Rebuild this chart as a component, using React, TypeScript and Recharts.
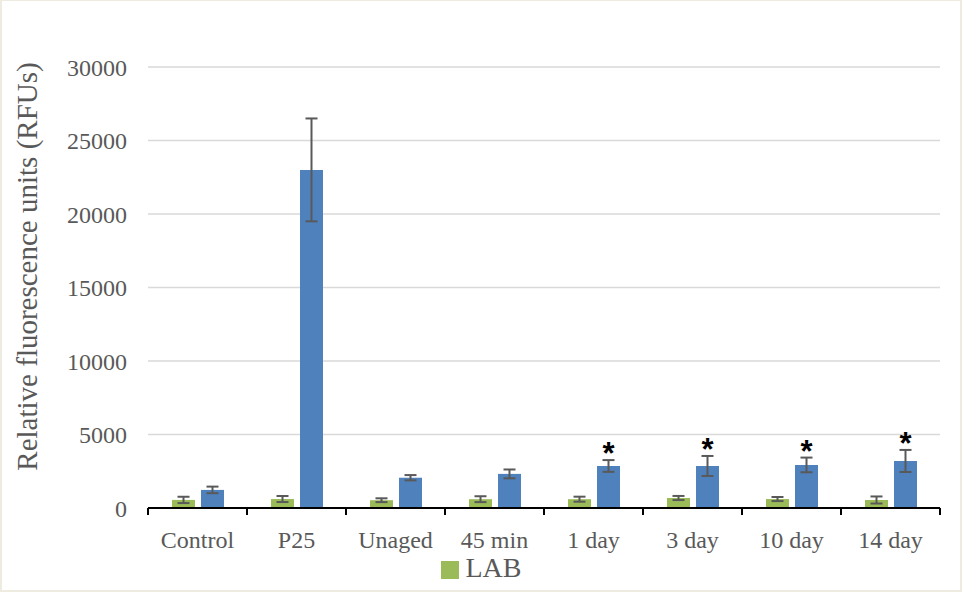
import { Bar, BarChart, CartesianGrid, ErrorBar, LabelList, Legend, XAxis, YAxis } from 'recharts'

const categories = ['Control', 'P25', 'Unaged', '45 min', '1 day', '3 day', '10 day', '14 day']
const labValues = [550, 610, 530, 600, 600, 680, 610, 545]
const labErrors = [215, 205, 130, 200, 170, 140, 140, 240]
const blueValues = [1230, 23000, 2060, 2320, 2860, 2860, 2930, 3200]
const blueErrors = [225, 3500, 180, 300, 400, 680, 500, 750]
const significant = [false, false, false, false, true, true, true, true]
const yTicks = [0, 5000, 10000, 15000, 20000, 25000, 30000]

const data = categories.map((name, i) => ({
  name,
  lab: labValues[i],
  labErr: labErrors[i],
  blue: blueValues[i],
  blueErr: blueErrors[i],
}))

const serif = '"Liberation Serif", "Times New Roman", serif'
const textGrey = '#595959'

// category labels centred, tick marks on the band edges (Excel style)
const CategoryTick = (props: any) => {
  const { x, y, payload, index, width } = props
  const step = (width || 792) / categories.length
  const axisY = y - 8
  const left = x - step / 2
  const right = x + step / 2
  return (
    <g>
      <line x1={left} x2={left} y1={axisY} y2={axisY + 7} stroke='#000' strokeWidth={2} />
      {index === categories.length - 1 && (
        <line x1={right} x2={right} y1={axisY} y2={axisY + 7} stroke='#000' strokeWidth={2} />
      )}
      <text x={x} y={axisY + 40} textAnchor='middle' fill={textGrey} fontSize={24} fontFamily={serif}>
        {payload.value}
      </text>
    </g>
  )
}

const Star = (props: any) => {
  const { x, y, width, height, value, index } = props
  if (!significant[index]) return null
  const pxPerUnit = height / value
  const top = y - blueErrors[index] * pxPerUnit
  return (
    <text x={x + width / 2} y={top + 4} textAnchor='middle' fontSize={31} fontWeight='bold' fontFamily='"Liberation Sans", Arial, sans-serif' fill='#000'>
      *
    </text>
  )
}

const YTitle = (props: any) => {
  const { viewBox } = props
  const cy = viewBox.y + viewBox.height / 2 - 21
  return (
    <text x={37} y={cy} transform={`rotate(-90, 37, ${cy})`} textAnchor='middle' fill={textGrey} fontSize={29} fontFamily={serif}>
      Relative fluorescence units (RFUs)
    </text>
  )
}

const LegendContent = () => (
  <div style={{ display: 'flex', justifyContent: 'center', alignItems: 'center', fontFamily: serif }}>
    <span style={{ width: 18, height: 18, background: '#9BBB59', display: 'inline-block', marginRight: 7, marginTop: 4 }} />
    <span style={{ fontSize: 28, color: textGrey, lineHeight: 1 }}>LAB</span>
  </div>
)

const App = () => {
  return (
    <div style={{ position: 'relative', width: 962, height: 592, background: '#fff' }}>
      <style>{'body{margin:0}'}</style>
      <BarChart
        width={962}
        height={592}
        data={data}
        margin={{ top: 67, right: 22, bottom: 0, left: 0 }}
        barSize={23}
        barGap={6}
      >
        <CartesianGrid horizontal vertical={false} stroke='#D9D9D9' strokeWidth={1.5} />
        <XAxis
          dataKey='name'
          height={84}
          tickSize={6}
          tickMargin={2}
          tickLine={false}
          axisLine={{ stroke: '#000', strokeWidth: 2 }}
          tick={<CategoryTick />}
          interval={0}
        />
        <YAxis
          width={148}
          domain={[0, 30000]}
          ticks={yTicks}
          axisLine={false}
          tickLine={false}
          tickMargin={15}
          tick={{ fill: textGrey, fontSize: 24, fontFamily: serif }}
          label={<YTitle />}
        />
        <Legend
          layout='horizontal'
          verticalAlign='middle'
          align='center'
          content={<LegendContent />}
          wrapperStyle={{ position: 'absolute', top: 554, left: 0, width: 962 }}
        />
        <Bar dataKey='lab' name='LAB' fill='#9BBB59' isAnimationActive={false}>
          <ErrorBar dataKey='labErr' width={6} stroke='#595959' strokeWidth={2} isAnimationActive={false} />
        </Bar>
        <Bar dataKey='blue' fill='#4F81BD' legendType='none' isAnimationActive={false}>
          <ErrorBar dataKey='blueErr' width={6} stroke='#595959' strokeWidth={2} isAnimationActive={false} />
          <LabelList dataKey='blue' content={<Star />} />
        </Bar>
      </BarChart>
      <div style={{ position: 'absolute', inset: 0, borderStyle: 'solid', borderColor: '#EEEBE0', borderWidth: '1px 2px 2px 2px', pointerEvents: 'none' }} />
    </div>
  )
}

export default App
